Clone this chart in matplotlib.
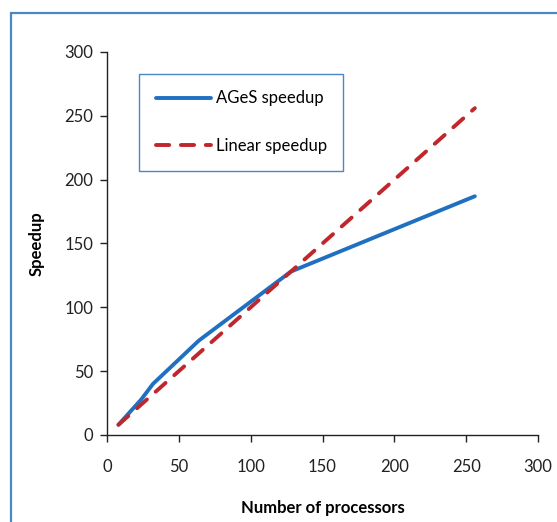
import matplotlib.pyplot as plt
from matplotlib.patches import Rectangle

plt.rcParams['font.family'] = ['Lato', 'DejaVu Sans']

# data
procs = [8, 16, 24, 32, 64, 128, 256]
ages_speedup = [8, 18, 28, 40, 74, 128, 187]
linear_procs = [8, 256]
linear_speedup = [8, 256]

blue = '#1f70c1'
red = '#c0272d'
frame_blue = '#4a86c8'

fig = plt.figure(figsize=(5.57, 5.22), dpi=100)
ax = fig.add_axes([0.192, 0.1667, 0.774, 0.7337])

ax.plot(procs, ages_speedup, color=blue, lw=2.8, solid_capstyle='round',
        solid_joinstyle='round', label='AGeS speedup')
ax.plot(linear_procs, linear_speedup, color=red, lw=2.8, dashes=(3.4, 3.0),
        dash_capstyle='round', label='Linear speedup')

ax.set_xlim(0, 300)
ax.set_ylim(0, 300)
ax.set_xticks(range(0, 301, 50))
ax.set_yticks(range(0, 301, 50))
ax.tick_params(direction='out', length=5, width=1, labelsize=12,
               colors='#222222', pad=5)
ax.tick_params(axis='x', pad=12)
for s in ['top', 'right']:
    ax.spines[s].set_visible(False)
for s in ['left', 'bottom']:
    ax.spines[s].set_color('#222222')
    ax.spines[s].set_linewidth(1)

ax.set_xlabel('Number of processors', fontsize=12, fontweight='bold', labelpad=18)
ax.set_ylabel('Speedup', fontsize=12, fontweight='bold', labelpad=14)

leg = ax.legend(loc='upper left', bbox_to_anchor=(0.074, 0.692, 0.474, 0.251),
                mode='expand', borderaxespad=0, fontsize=12, handlelength=3.3,
                labelspacing=1.9, borderpad=1.0, handletextpad=0.3,
                fancybox=False, framealpha=1)
leg.get_frame().set_edgecolor(frame_blue)
leg.get_frame().set_linewidth(1)

# outer chart border, partly cut off on the right and bottom
fig.patches.append(Rectangle((11 / 557, -0.1), 1.2, (522 - 13) / 522 + 0.1,
                             transform=fig.transFigure, fill=False,
                             edgecolor=frame_blue, lw=1.6, clip_on=False))

fig.savefig('out.png', dpi=100)
